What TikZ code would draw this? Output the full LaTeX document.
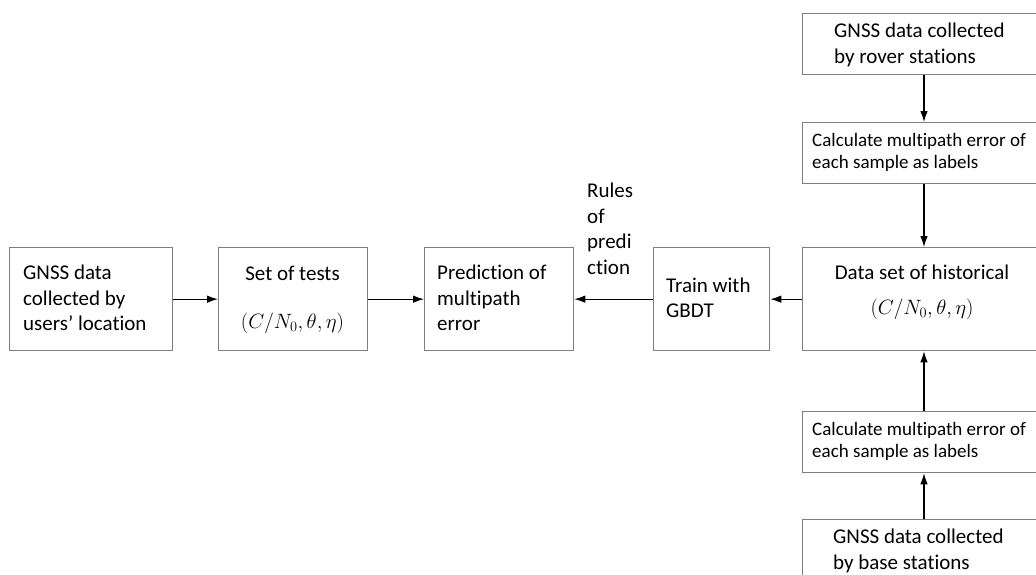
\documentclass[tikz,border=0pt]{standalone}
\usepackage{fontspec}
\setmainfont{Carlito}[RawFeature={-liga}]
\usepackage{amsmath}
\usetikzlibrary{arrows.meta}
\definecolor{boxline}{HTML}{7F7F7F}
\tikzset{
  box/.style={draw=boxline, line width=1.3pt, rectangle, inner sep=0pt, anchor=north west},
  txt/.style={font=\fontsize{21}{25.5}\selectfont, inner sep=0pt},
  mathtxt/.style={font=\fontsize{22}{26}\selectfont, inner sep=0pt},
  smalltxt/.style={font=\fontsize{19}{22}\selectfont, inner sep=0pt},
  flow/.style={draw=black, line width=1.1pt, -{Latex[length=11pt,width=7.5pt]}}
}
\begin{document}
\begin{tikzpicture}[x=1pt,y=-1pt]
\clip (0,0) rectangle (1036,574);
\fill[white] (0,0) rectangle (1036,574);

% left-to-right chain
\node[box, minimum width=163pt, minimum height=103pt] (users) at (9,247) {};
\node[txt, align=left, anchor=west] at (23,298) {GNSS data\\collected by\\users' location};

\node[box, minimum width=149pt, minimum height=103pt] (tests) at (218,247) {};
\node[txt, anchor=base] at (292.5,280) {Set of tests};
\node[mathtxt, anchor=base] at (292.5,328) {$(C/N_0,\theta,\eta)$};

\node[box, minimum width=149pt, minimum height=103pt] (pred) at (424,247) {};
\node[txt, align=left, anchor=west] at (437,298) {Prediction of\\multipath\\error};

\node[box, minimum width=116pt, minimum height=103pt] (gbdt) at (653,247) {};
\node[txt, align=left, anchor=west] at (666,298) {Train with\\GBDT};

\node[txt, align=left, anchor=north west] (rules) at (587,183) {Rules\\of\\predi\\ction};

% right column
\node[box, minimum width=244pt, minimum height=61pt] (rover) at (802,13) {};
\node[txt, align=left, anchor=west] at (834,45) {GNSS data collected\\by rover stations};

\node[box, minimum width=244pt, minimum height=61pt] (calcA) at (802,122) {};
\node[smalltxt, align=left, anchor=west] at (812,152) {Calculate multipath error of\\each sample as labels};

\node[box, minimum width=244pt, minimum height=103pt] (hist) at (802,247) {};
\node[txt, anchor=base] at (922,279) {Data set of historical};
\node[mathtxt, anchor=base] at (922,314) {$(C/N_0,\theta,\eta)$};

\node[box, minimum width=244pt, minimum height=61pt] (calcB) at (802,411) {};
\node[smalltxt, align=left, anchor=west] at (812,441) {Calculate multipath error of\\each sample as labels};

\node[box, minimum width=244pt, minimum height=72pt] (base) at (802,519) {};
\node[txt, align=left, anchor=west] at (833,551) {GNSS data collected\\by base stations};

% connectors
\draw[flow] (users.east) -- (tests.west);
\draw[flow] (tests.east) -- (pred.west);
\draw[flow] (gbdt.west) -- (pred.east);
\draw[flow] (hist.west) -- (gbdt.east);
\draw[flow] (rover.south -| 924,0) -- (calcA.north -| 924,0);
\draw[flow] (calcA.south -| 924,0) -- (hist.north -| 924,0);
\draw[flow] (base.north -| 924,0) -- (calcB.south -| 924,0);
\draw[flow] (calcB.north -| 924,0) -- (hist.south -| 924,0);
\end{tikzpicture}
\end{document}
